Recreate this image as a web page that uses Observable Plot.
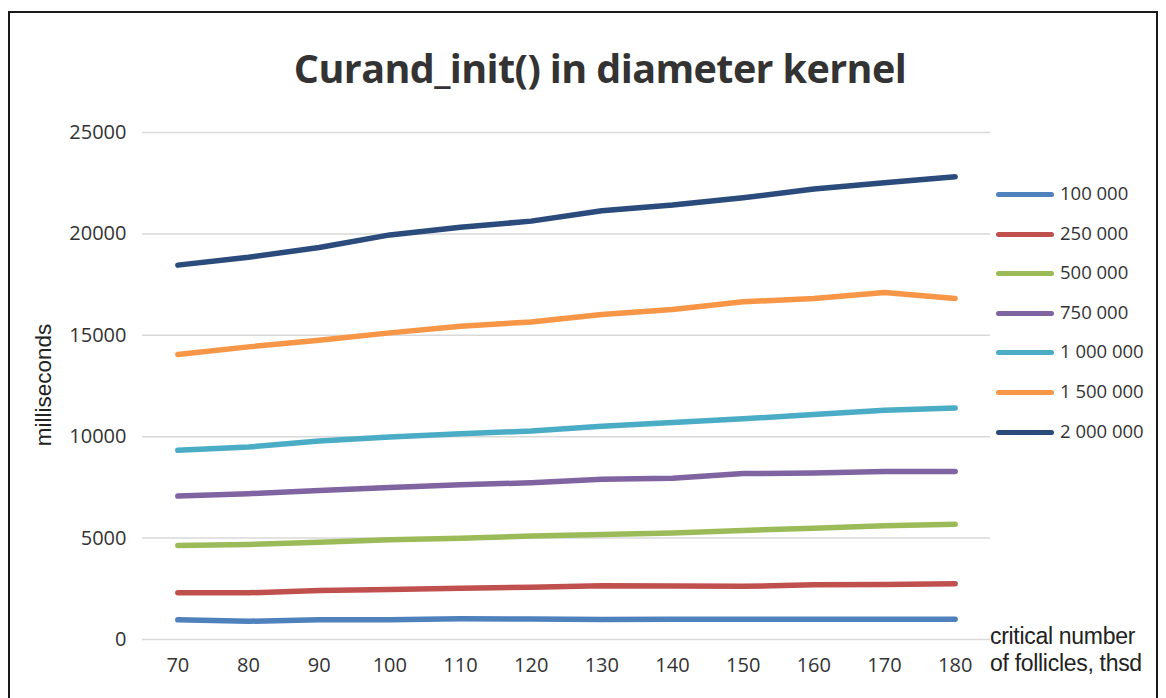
<!DOCTYPE html>
<html>
<head>
<meta charset="utf-8">
<script src="https://cdn.jsdelivr.net/npm/d3@7"></script>
<script src="https://cdn.jsdelivr.net/npm/@observablehq/plot@0.6"></script>
<style>
  html, body { margin: 0; padding: 0; background: #fff; width: 1166px; height: 698px; overflow: hidden; }
  #frame { position: absolute; left: 8px; top: 11px; width: 1150px; height: 700px; border: 2px solid #1a1a1a; box-sizing: border-box; }
  #title { position: absolute; left: 0; width: 1200px; top: 41px; text-align: center; font-family: "Open Sans", sans-serif; font-weight: 700; font-size: 39.5px; color: #333; letter-spacing: -0.6px; }
  #chart { position: absolute; left: 0; top: 0; }
  #ylabel { position: absolute; left: 44px; top: 385px; transform: translate(-50%, -50%) rotate(-90deg); font-family: "Liberation Sans", Arial, sans-serif; font-size: 22.5px; color: #222; white-space: nowrap; }
  #xlabel { position: absolute; left: 990px; top: 623px; font-family: "Liberation Sans", Arial, sans-serif; font-size: 23px; line-height: 27px; color: #222; white-space: nowrap; letter-spacing: -0.3px; }
  #legend { position: absolute; left: 996px; top: 180px; font-family: "Open Sans", sans-serif; font-size: 18.5px; color: #333; }
  .item { height: 39.6px; display: flex; align-items: flex-start; }
  .sw { width: 58px; height: 5px; border-radius: 3px; margin-top: 12px; margin-right: 6px; }
</style>
</head>
<body>
<div id="frame"></div>
<div id="title">Curand_init() in diameter kernel</div>
<div id="chart"></div>
<div id="ylabel">milliseconds</div>
<div id="xlabel">critical number<br>of follicles, thsd</div>
<div id="legend"></div>
<script>
const follicles = [70, 80, 90, 100, 110, 120, 130, 140, 150, 160, 170, 180];
const seriesNames = ["100 000", "250 000", "500 000", "750 000", "1 000 000", "1 500 000", "2 000 000"];
const seriesColors = ["#4F81BD", "#C0504D", "#9BBB59", "#8064A2", "#4BACC6", "#F79646", "#2A4B7C"];
const s100k  = [970, 900, 970, 980, 1020, 1010, 990, 1000, 1000, 1000, 1000, 1000];
const s250k  = [2300, 2300, 2420, 2470, 2530, 2580, 2650, 2640, 2620, 2700, 2710, 2750];
const s500k  = [4640, 4690, 4790, 4920, 4990, 5100, 5180, 5250, 5380, 5490, 5610, 5680];
const s750k  = [7070, 7190, 7350, 7490, 7630, 7730, 7900, 7950, 8180, 8210, 8290, 8290];
const s1000k = [9330, 9490, 9790, 9990, 10150, 10280, 10510, 10700, 10880, 11090, 11300, 11420];
const s1500k = [14050, 14430, 14760, 15120, 15450, 15660, 16030, 16270, 16650, 16820, 17110, 16820];
const s2000k = [18460, 18850, 19330, 19950, 20330, 20630, 21140, 21420, 21780, 22210, 22520, 22820];
const yTicks = [0, 5000, 10000, 15000, 20000, 25000];

const allSeries = [s100k, s250k, s500k, s750k, s1000k, s1500k, s2000k];
const rows = [];
allSeries.forEach((vals, i) => vals.forEach((v, j) => rows.push({series: seriesNames[i], x: follicles[j], y: v})));

const plot = Plot.plot({
  width: 1166,
  height: 698,
  marginLeft: 142,
  marginRight: 176,
  marginTop: 132,
  marginBottom: 59,
  style: { fontFamily: "'Open Sans', sans-serif", color: "#333", background: "transparent" },
  x: { type: "linear", domain: [65, 185], ticks: follicles, tickFormat: d => String(d), label: null },
  y: { domain: [0, 25000], ticks: yTicks, tickFormat: d => String(d), label: null },
  color: { domain: seriesNames, range: seriesColors },
  marks: [
    Plot.gridY(yTicks, { stroke: "#d9d9d9", strokeOpacity: 1, strokeWidth: 1.5 }),
    Plot.axisY(yTicks, { tickSize: 0, tickPadding: 16, fontSize: 20, fill: "#333", label: null, tickFormat: d => String(d) }),
    Plot.axisX(follicles, { tickSize: 0, tickPadding: 18, fontSize: 20, fill: "#333", label: null, tickFormat: d => String(d) }),
    Plot.line(rows, { x: "x", y: "y", z: "series", stroke: "series", strokeWidth: 5.5, strokeLinecap: "round", strokeLinejoin: "round" })
  ]
});
document.getElementById("chart").appendChild(plot);

const legend = document.getElementById("legend");
seriesNames.forEach((name, i) => {
  const item = document.createElement("div");
  item.className = "item";
  const sw = document.createElement("div");
  sw.className = "sw";
  sw.style.background = seriesColors[i];
  const t = document.createElement("span");
  t.textContent = name;
  item.appendChild(sw);
  item.appendChild(t);
  legend.appendChild(item);
});
</script>
</body>
</html>
